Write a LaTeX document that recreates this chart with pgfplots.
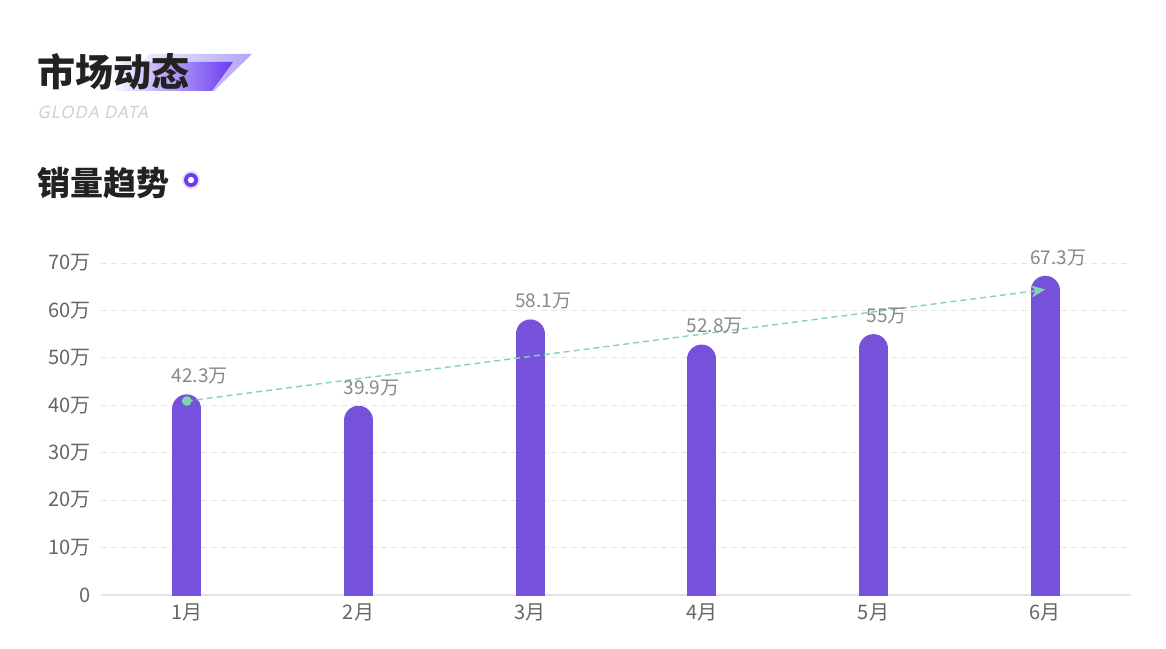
\documentclass[border=0pt]{standalone}
\usepackage{pgfplots}
\pgfplotsset{compat=1.18}
\usepackage{fontspec}
\setmainfont{Noto Sans CJK SC}
\newfontfamily\latinf[FakeSlant=0.2,LetterSpace=6]{Noto Sans}
\usetikzlibrary{arrows.meta}
\definecolor{barc}{HTML}{7552D9}
\definecolor{trend}{HTML}{82D6AE}
\definecolor{gridc}{HTML}{E2E4E8}
\definecolor{tickc}{HTML}{666666}
\definecolor{valc}{HTML}{888888}
\definecolor{headc}{HTML}{222222}
\definecolor{purp}{HTML}{6A3CF0}
\definecolor{purpl}{HTML}{B3A4F6}
\definecolor{subc}{HTML}{CFCFD8}
\begin{document}
\begin{tikzpicture}
\path[use as bounding box,fill=white] (0,0) rectangle (583pt,324pt);
\begin{scope}[x=0.5pt,y=-0.5pt,shift={(0,-648)}]
\shade[left color=white,right color=purpl] (150,54) -- (252,54) -- (214,91) -- (112,91) -- cycle;
\shade[left color=white,right color=purp] (110,62) -- (233,62) -- (212,91) -- (110,91) -- cycle;
\node[anchor=west,inner sep=0,text=headc,font=\fontsize{19pt}{20pt}\bfseries] at (37,72) {市场动态};
\node[anchor=west,inner sep=0,text=subc,font=\latinf\fontsize{8.5pt}{10pt}\selectfont] at (37,112) {GLODA DATA};
\node[anchor=west,inner sep=0,text=headc,font=\fontsize{16.5pt}{17pt}\bfseries] at (37,183) {销量趋势};
\fill[purp!60,opacity=0.3] (191,180) circle (9);
\fill[purp] (191,180) circle (7);
\fill[white] (191,180) circle (3.2);
\end{scope}
\begin{axis}[
  at={(50.5pt,26.5pt)}, anchor=south west,
  scale only axis, width=515pt, height=166pt,
  xmin=-0.5, xmax=5.5, ymin=0, ymax=70,
  xtick={0,...,5}, xticklabels={1月,2月,3月,4月,5月,6月},
  ytick={0,10,...,70}, yticklabels={0,10万,20万,30万,40万,50万,60万,70万},
  major tick length=0pt,
  ymajorgrids, grid style={gridc, dash pattern=on 3pt off 2pt, line width=0.5pt},
  axis x line*=bottom, axis y line*=left,
  x axis line style={gridc, line width=0.8pt, -},
  y axis line style={draw=none},
  tick label style={text=tickc, font=\fontsize{10pt}{11pt}\selectfont},
  xticklabel style={yshift=-1pt},
  yticklabel style={xshift=-1.5pt},
  /pgf/number format/assume math mode=true,
  clip=true,
]
\addplot[ycomb, barc, line width=14.5pt, line cap=round, mark=none, yshift=-7.25pt]
  coordinates {(0,42.3) (1,39.9) (2,58.1) (3,52.8) (4,55) (5,67.3)};
\addplot[draw=none, mark=none, nodes near coords={\pgfmathprintnumber{\pgfplotspointmeta}万},
  every node near coord/.style={anchor=south, text=valc, font=\fontsize{9.5pt}{10pt}\selectfont, yshift=1.5pt, xshift=6.5pt}]
  coordinates {(0,42.3) (1,39.9) (2,58.1) (3,52.8) (4,55) (5,67.3)};
\addplot[trend, line width=0.7pt, dash pattern=on 3pt off 2pt, -{Stealth[length=7pt,width=6pt]}, mark=none]
  coordinates {(0,40.9) (5,64.4)};
\addplot[only marks, mark=*, mark size=2.2pt, trend, mark options={solid}]
  coordinates {(0,40.9)};
\end{axis}
\end{tikzpicture}
\end{document}
